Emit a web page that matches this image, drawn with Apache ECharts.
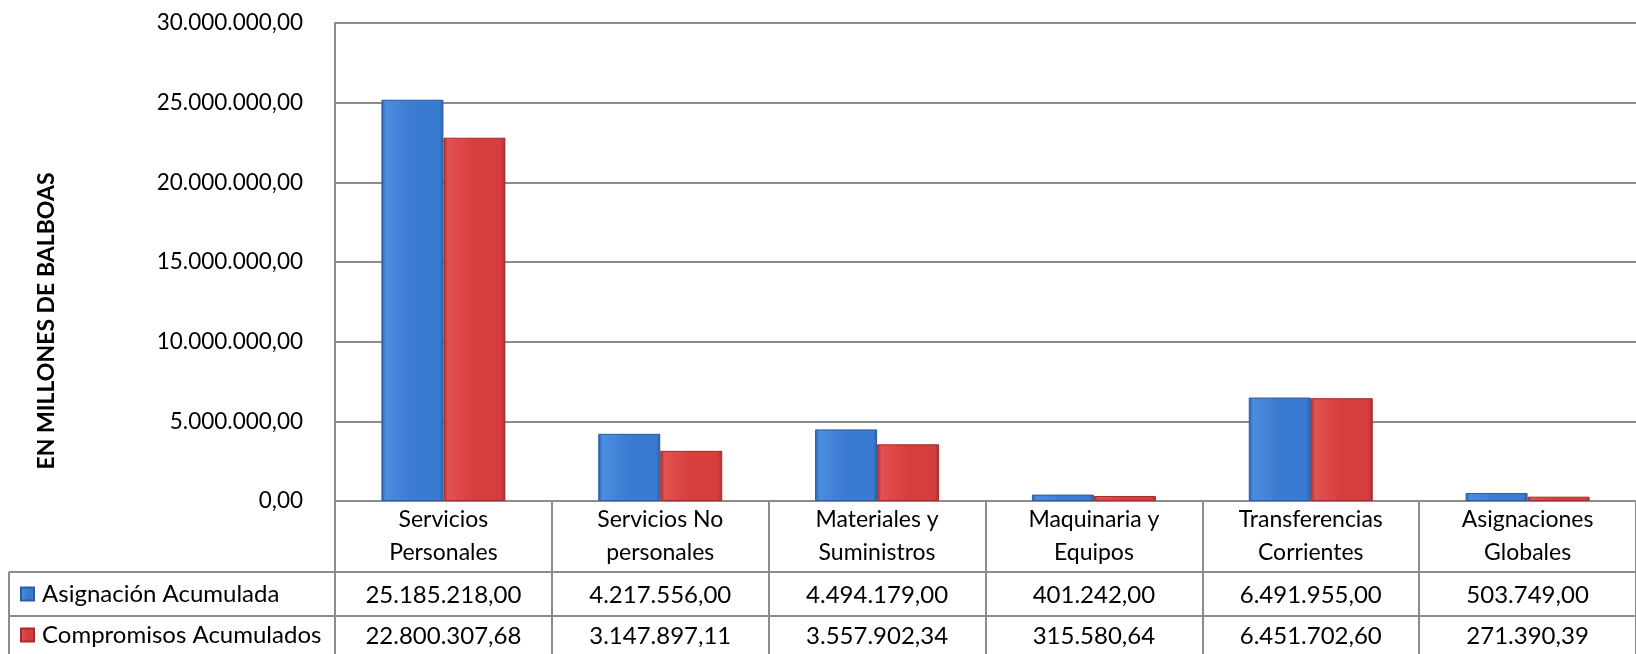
<!DOCTYPE html>
<html>
<head>
<meta charset="utf-8">
<script src="https://cdn.jsdelivr.net/npm/echarts@6/dist/echarts.min.js"></script>
<style>
html,body{margin:0;padding:0;background:#fff;}
#chart{width:1636px;height:654px;}
</style>
</head>
<body>
<div id="chart"></div>
<script>
const categories = [
  "Servicios\nPersonales",
  "Servicios No\npersonales",
  "Materiales y\nSuministros",
  "Maquinaria y\nEquipos",
  "Transferencias\nCorrientes",
  "Asignaciones\nGlobales"
];
const seriesNames = ["Asignación Acumulada", "Compromisos Acumulados"];
const asignacion = [25185218.00, 4217556.00, 4494179.00, 401242.00, 6491955.00, 503749.00];
const compromisos = [22800307.68, 3147897.11, 3557902.34, 315580.64, 6451702.60, 271390.39];
const yTicks = { min: 0, max: 30000000, interval: 5000000 };
const yAxisTitle = "EN MILLONES DE BALBOAS";

function fmt(v) {
  const s = Number(v).toFixed(2);
  const parts = s.split('.');
  const intPart = parts[0].replace(/\B(?=(\d{3})+(?!\d))/g, '.');
  return intPart + ',' + parts[1];
}

const FONT = 'Lato';
const GRID_LEFT = 335, GRID_TOP = 23, GRID_BOTTOM_Y = 501, GRID_W = 1310;
const LINE = '#8c8c8c';

function grad(edgeDark, mid, light) {
  return new echarts.graphic.LinearGradient(0, 0, 1, 0, [
    { offset: 0, color: edgeDark },
    { offset: 0.07, color: light },
    { offset: 0.5, color: mid },
    { offset: 0.93, color: mid },
    { offset: 1, color: edgeDark }
  ]);
}

const blueFill = grad('#2b5fa8', '#3a7bd2', '#4b8ee0');
const redFill = grad('#a82e2e', '#d63d3d', '#e25252');

const chart = echarts.init(document.getElementById('chart'), null, { renderer: 'canvas' });

const legendText = { fontFamily: FONT, fontSize: 24, color: '#000', lineHeight: 28, padding: [0, 0, 0, 3] };

const option = {
  backgroundColor: '#ffffff',
  animation: false,
  textStyle: { fontFamily: FONT },
  grid: {
    left: GRID_LEFT, top: GRID_TOP, width: GRID_W, height: GRID_BOTTOM_Y - GRID_TOP,
    containLabel: false
  },
  legend: [
    {
      left: 20, top: 580, itemWidth: 13, itemHeight: 13, itemGap: 4, icon: 'rect',
      data: [seriesNames[0]], textStyle: legendText, padding: 0
    },
    {
      left: 20, top: 621, itemWidth: 13, itemHeight: 13, itemGap: 4, icon: 'rect',
      data: [seriesNames[1]], textStyle: legendText, padding: 0
    }
  ],
  xAxis: [
    {
      type: 'category', data: categories, position: 'bottom',
      axisLine: { show: true, lineStyle: { color: LINE, width: 2 } },
      axisTick: { show: true, alignWithLabel: false, length: 160, lineStyle: { color: LINE, width: 2 } },
      axisLabel: { fontFamily: FONT, fontSize: 23, color: '#000', lineHeight: 33, margin: 2, interval: 0 },
      splitLine: { show: false }
    },
    {
      type: 'category', data: categories, position: 'bottom', offset: 72,
      axisLine: { show: false }, axisTick: { show: false },
      axisLabel: { fontFamily: FONT, fontSize: 24, color: '#000', lineHeight: 28, margin: 8, interval: 0,
        formatter: function (v, i) { return fmt(asignacion[i]); } }
    },
    {
      type: 'category', data: categories, position: 'bottom', offset: 113,
      axisLine: { show: false }, axisTick: { show: false },
      axisLabel: { fontFamily: FONT, fontSize: 24, color: '#000', lineHeight: 28, margin: 8, interval: 0,
        formatter: function (v, i) { return fmt(compromisos[i]); } }
    }
  ],
  yAxis: {
    type: 'value', min: yTicks.min, max: yTicks.max, interval: yTicks.interval,
    axisLine: { show: true, lineStyle: { color: LINE, width: 2 } },
    axisTick: { show: false },
    axisLabel: { fontFamily: FONT, fontSize: 22.5, color: '#000', margin: 32, formatter: fmt },
    splitLine: { show: true, lineStyle: { color: LINE, width: 2 } }
  },
  series: [
    {
      name: seriesNames[0], type: 'bar', data: asignacion, barWidth: 62, barGap: '0%',
      itemStyle: { color: blueFill, borderColor: '#2a5ca3', borderWidth: 1 }
    },
    {
      name: seriesNames[1], type: 'bar', data: compromisos, barWidth: 62,
      itemStyle: { color: redFill, borderColor: '#a32c2c', borderWidth: 1 }
    }
  ],
  graphic: [
    { type: 'line', shape: { x1: 9, y1: 572, x2: 1636, y2: 572 }, style: { stroke: LINE, lineWidth: 2 } },
    { type: 'line', shape: { x1: 9, y1: 616, x2: 1636, y2: 616 }, style: { stroke: LINE, lineWidth: 2 } },
    { type: 'line', shape: { x1: 9, y1: 572, x2: 9, y2: 654 }, style: { stroke: LINE, lineWidth: 2 } },
    { type: 'text', x: 47, y: 321, rotation: Math.PI / 2,
      style: { text: yAxisTitle, fontFamily: FONT, fontWeight: 'bold', fontSize: 23, fill: '#000',
        align: 'center', verticalAlign: 'middle' } }
  ]
};
chart.setOption(option);
</script>
</body>
</html>
